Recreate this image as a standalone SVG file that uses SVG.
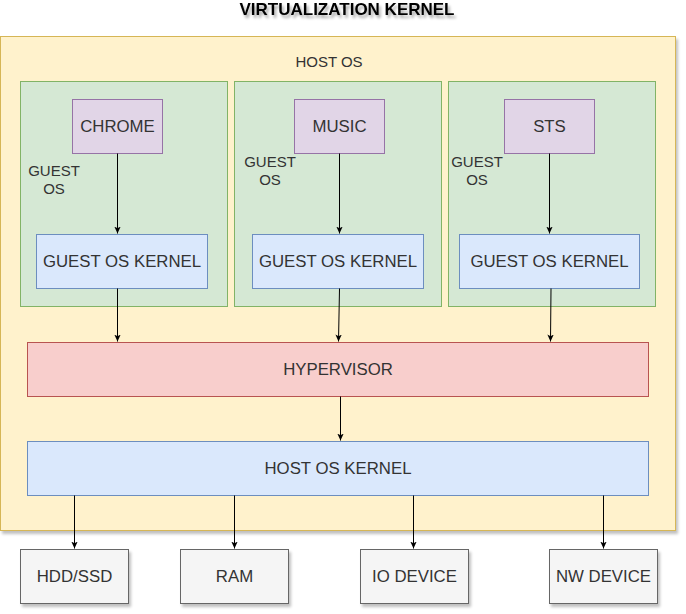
<svg xmlns="http://www.w3.org/2000/svg" width="686" height="614" viewBox="0 0 686 614">
<style>
text{font-family:"Liberation Sans",Arial,sans-serif;fill:#333;text-anchor:middle}
.t{font-size:16.8px}
.s{font-size:15px}
.host{fill:#fff2cc;stroke:#d6b656}
.guest{fill:#d5e8d4;stroke:#82b366}
.app{fill:#e1d5e7;stroke:#9673a6}
.kern{fill:#dae8fc;stroke:#6c8ebf}
.hyp{fill:#f8cecc;stroke:#b85450}
.dev{fill:#f5f5f5;stroke:#666666}
.edge{stroke:#000;stroke-width:1;fill:none;marker-end:url(#arr)}
</style>
<defs>
<filter id="sh" x="-10%" y="-10%" width="130%" height="130%">
<feGaussianBlur in="SourceAlpha" stdDeviation="1.5"/>
<feOffset dx="2" dy="3" result="o"/>
<feComponentTransfer><feFuncA type="linear" slope="0.25"/></feComponentTransfer>
<feMerge><feMergeNode/><feMergeNode in="SourceGraphic"/></feMerge>
</filter>
<filter id="tsh" x="-10%" y="-50%" width="120%" height="200%">
<feGaussianBlur in="SourceAlpha" stdDeviation="1.5"/>
<feOffset dx="2" dy="3"/>
<feComponentTransfer><feFuncA type="linear" slope="0.35"/></feComponentTransfer>
<feMerge><feMergeNode/><feMergeNode in="SourceGraphic"/></feMerge>
</filter>
<marker id="arr" viewBox="0 0 8 8" refX="7" refY="4" markerWidth="8" markerHeight="8" markerUnits="userSpaceOnUse" orient="auto">
<path d="M0,0.8 L7,4 L0,7.2 L1.8,4 Z" fill="#000"/>
</marker>
</defs>

<g id="title"><text x="347" y="15" style="font-size:17px;font-weight:bold;fill:#000" filter="url(#tsh)">VIRTUALIZATION KERNEL</text></g>

<g id="host-os">
<rect class="host" x="0.5" y="36.5" width="675" height="494" filter="url(#sh)"/>
<text class="s" x="329" y="67">HOST OS</text>
</g>

<g id="guest-os-1">
<rect class="guest" x="20.5" y="81.5" width="207" height="225"/>
<text class="s" x="54" y="176">GUEST</text>
<text class="s" x="54" y="194">OS</text>
</g>
<g id="guest-os-2">
<rect class="guest" x="234.5" y="81.5" width="207" height="225"/>
<text class="s" x="270" y="167">GUEST</text>
<text class="s" x="270" y="185">OS</text>
</g>
<g id="guest-os-3">
<rect class="guest" x="448.5" y="81.5" width="207" height="225"/>
<text class="s" x="477" y="167">GUEST</text>
<text class="s" x="477" y="185">OS</text>
</g>

<g id="chrome"><rect class="app" x="72.5" y="99.5" width="90" height="54"/><text class="t" x="117.5" y="131.5">CHROME</text></g>
<g id="music"><rect class="app" x="294.5" y="99.5" width="90" height="54"/><text class="t" x="339.5" y="131.5">MUSIC</text></g>
<g id="sts"><rect class="app" x="504.5" y="99.5" width="90" height="54"/><text class="t" x="549.5" y="131.5">STS</text></g>

<g id="guest-kernel-1"><rect class="kern" x="36.5" y="234.5" width="171" height="54"/><text class="t" x="122" y="266.5">GUEST OS KERNEL</text></g>
<g id="guest-kernel-2"><rect class="kern" x="252.5" y="234.5" width="171" height="54"/><text class="t" x="338" y="266.5">GUEST OS KERNEL</text></g>
<g id="guest-kernel-3"><rect class="kern" x="459.5" y="234.5" width="180" height="54"/><text class="t" x="549.5" y="266.5">GUEST OS KERNEL</text></g>

<g id="hypervisor"><rect class="hyp" x="27.5" y="342.5" width="621" height="54"/><text class="t" x="338" y="374.5">HYPERVISOR</text></g>
<g id="host-os-kernel"><rect class="kern" x="27.5" y="441.5" width="621" height="54"/><text class="t" x="338" y="473.5">HOST OS KERNEL</text></g>

<g id="hdd"><rect class="dev" x="20.5" y="549.5" width="108" height="54" filter="url(#sh)"/><text class="t" x="74.5" y="581.5">HDD/SSD</text></g>
<g id="ram"><rect class="dev" x="180.5" y="549.5" width="108" height="54" filter="url(#sh)"/><text class="t" x="234.5" y="581.5">RAM</text></g>
<g id="io"><rect class="dev" x="360.5" y="549.5" width="108" height="54" filter="url(#sh)"/><text class="t" x="414.5" y="581.5">IO DEVICE</text></g>
<g id="nw"><rect class="dev" x="549.5" y="549.5" width="108" height="54" filter="url(#sh)"/><text class="t" x="603.5" y="581.5">NW DEVICE</text></g>

<g id="connectors">
<path class="edge" d="M117.5,153.5 V233.5"/>
<path class="edge" d="M339.5,153.5 V233.5"/>
<path class="edge" d="M549.5,153.5 V233.5"/>
<path class="edge" d="M117.5,288.5 V341.5"/>
<path class="edge" d="M339.5,288.5 L338.5,341.5"/>
<path class="edge" d="M551,288.5 L550.5,341.5"/>
<path class="edge" d="M340.5,396.5 V440.5"/>
<path class="edge" d="M74.5,495.5 V548.5"/>
<path class="edge" d="M234.5,495.5 V548.5"/>
<path class="edge" d="M413.5,495.5 V548.5"/>
<path class="edge" d="M603.5,495.5 V548.5"/>
</g>
</svg>
